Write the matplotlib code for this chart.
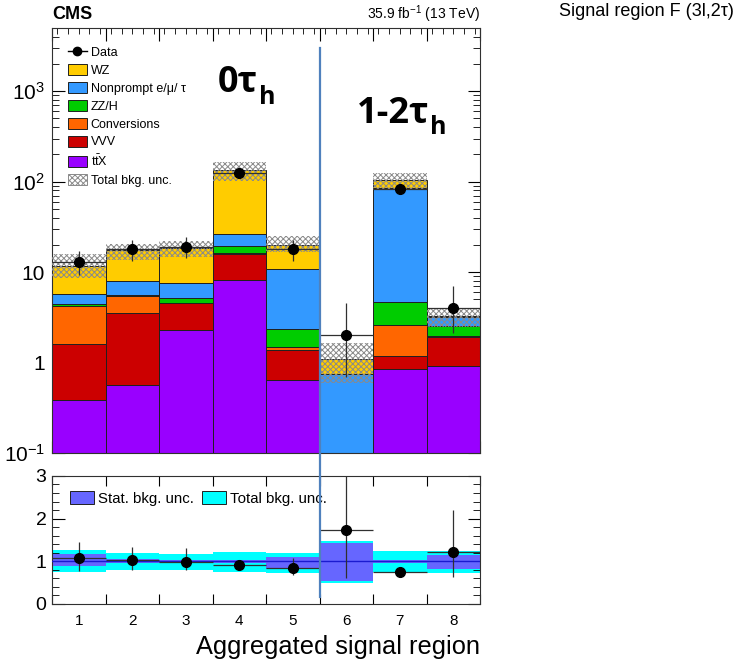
import numpy as np
import matplotlib
matplotlib.use("Agg")
from matplotlib import pyplot as plt
from matplotlib import ticker as pltticker
from matplotlib import transforms as mtrans
from matplotlib.patches import Patch
from matplotlib.lines import Line2D

plt.rcParams["font.family"] = ["Liberation Sans", "DejaVu Sans"]
plt.rcParams["mathtext.fontset"] = "custom"
plt.rcParams["mathtext.rm"] = "Liberation Sans"
plt.rcParams["mathtext.it"] = "Liberation Sans:italic"
plt.rcParams["mathtext.bf"] = "Liberation Sans:bold"
plt.rcParams["hatch.linewidth"] = 0.7

# aggregated signal regions
bins = [1, 2, 3, 4, 5, 6, 7, 8]
binLabels = ["1", "2", "3", "4", "5", "6", "7", "8"]

# background yields per process (stacked bottom -> top)
ttX = [0.38, 0.57, 2.27, 8.2, 0.64, 0.0, 0.84, 0.91]
vvv = [1.24, 2.99, 2.27, 7.7, 0.75, 0.0, 0.33, 1.0]
conversions = [2.58, 1.86, 0.06, 0.2, 0.10, 0.0, 1.41, 0.05]
zzh = [0.27, 0.18, 0.6, 3.2, 0.84, 0.0, 2.07, 0.6]
nonprompt = [1.23, 2.34, 2.3, 7.1, 8.4, 0.74, 80.4, 0.6]
wz = [6.1, 9.8, 10.9, 108.0, 9.4, 0.36, 19.0, 0.08]

# total background uncertainty band (upper panel)
uncHigh = [16.0, 20.5, 22.0, 166.0, 25.0, 1.64, 125.0, 3.9]
uncLow = [8.6, 13.6, 14.6, 102.0, 16.5, 0.59, 80.0, 2.5]

# observed data
data = [13, 18, 19, 126, 18, 2, 82, 4]
dataHigh = [17.3, 22.7, 24.2, 137.0, 22.7, 4.5, 91.0, 7.1]
dataLow = [9.4, 13.4, 14.4, 115.0, 13.4, 0.7, 73.0, 2.1]

# ratio panel
ratio = [1.07, 1.02, 0.99, 0.91, 0.84, 1.73, 0.76, 1.22]
ratioHigh = [1.46, 1.34, 1.30, 0.95, 1.08, 3.5, 0.80, 2.2]
ratioLow = [0.78, 0.79, 0.79, 0.87, 0.69, 0.61, 0.72, 0.64]
totalUncHigh = [1.26, 1.19, 1.17, 1.22, 1.20, 1.48, 1.24, 1.24]
totalUncLow = [0.74, 0.79, 0.79, 0.74, 0.72, 0.50, 0.74, 0.72]
statUncHigh = [1.18, 1.05, 1.04, 1.03, 1.10, 1.44, 1.03, 1.15]
statUncLow = [0.90, 0.95, 0.96, 0.97, 0.83, 0.55, 0.97, 0.82]

processes = [
    ("ttX", ttX, "#9900FF", r"t$\bar{\mathrm{t}}$X"),
    ("VVV", vvv, "#CC0000", "VVV"),
    ("Conversions", conversions, "#FF6600", "Conversions"),
    ("ZZ/H", zzh, "#00CC00", "ZZ/H"),
    ("Nonprompt", nonprompt, "#3399FF", "Nonprompt e/\u03bc/ \u03c4"),
    ("WZ", wz, "#FFCC00", "WZ"),
]

x = np.array(bins, dtype=float)
edges = np.arange(0.5, len(bins) + 1.0, 1.0)

fig = plt.figure(figsize=(7.41, 6.64), dpi=100)
ax = fig.add_axes([0.0702, 0.3178, 0.5776, 0.6400])
axr = fig.add_axes([0.0702, 0.0904, 0.5776, 0.1928])

# stacked backgrounds
bottom = np.full(len(bins), 1e-3)
for name, vals, color, lab in processes:
    vals = np.array(vals)
    ax.bar(x, vals, width=1.0, bottom=bottom, color=color,
           edgecolor="#202020", linewidth=0.7, zorder=2)
    bottom = bottom + vals

# total background unc. band
hi = np.array(uncHigh)
lo = np.array(uncLow)
ax.bar(x, hi - lo, width=1.0, bottom=lo, facecolor="none", edgecolor="#8a8a8a",
       hatch="xxxxxx", linewidth=0, zorder=3)

# data
d = np.array(data, dtype=float)
ax.errorbar(x, d, yerr=[d - np.array(dataLow), np.array(dataHigh) - d], xerr=0.5,
            fmt="o", color="black", ecolor="#303030", elinewidth=0.9,
            markersize=7, capsize=0, zorder=5)

ax.set_yscale("log")
ax.set_xlim(0.5, 8.5)
ax.set_ylim(0.1, 5000)
ax.set_yticks([0.1, 1, 10, 100, 1000])
ax.set_yticklabels([r"$10^{-1}$", "1", "10", r"$10^{2}$", r"$10^{3}$"])
ax.yaxis.set_minor_locator(pltticker.LogLocator(base=10, subs=np.arange(2, 10)))
ax.yaxis.set_minor_formatter(pltticker.NullFormatter())
ax.set_xticks(edges)
ax.set_xticklabels([])
ax.xaxis.set_minor_locator(pltticker.MultipleLocator(0.2))
ax.tick_params(axis="both", which="both", direction="in", top=True, right=True)
ax.tick_params(axis="y", which="major", length=9, labelsize=15, pad=5)
ax.tick_params(axis="y", which="minor", length=5)
ax.tick_params(axis="x", which="major", length=9)
ax.tick_params(axis="x", which="minor", length=4)

handles = [Line2D([], [], color="black", marker="o", markersize=6, lw=1)]
labels = ["Data"]
for name, vals, color, lab in reversed(processes):
    handles.append(Patch(facecolor=color, edgecolor="#202020", linewidth=0.7))
    labels.append(lab)
handles.append(Patch(facecolor="white", edgecolor="#8a8a8a", hatch="xxxxxx", linewidth=0.7))
labels.append("Total bkg. unc.")
ax.legend(handles, labels, loc="upper left", bbox_to_anchor=(0.02, 0.975),
          frameon=False, fontsize=9, labelspacing=0.4, handlelength=1.5,
          handleheight=1.0, handletextpad=0.3, borderaxespad=0.2)

# ratio panel
axr.bar(x, np.array(totalUncHigh) - np.array(totalUncLow), width=1.0,
        bottom=totalUncLow, color="#00FFFF", linewidth=0, zorder=1)
axr.bar(x, np.array(statUncHigh) - np.array(statUncLow), width=1.0,
        bottom=statUncLow, color="#6666FF", linewidth=0, zorder=2)
axr.axhline(1.0, color="#1a1aD0", lw=1.0, zorder=3)
r = np.array(ratio)
axr.errorbar(x, r, yerr=[r - np.array(ratioLow), np.array(ratioHigh) - r], xerr=0.5,
             fmt="o", color="black", ecolor="#303030", elinewidth=0.9,
             markersize=7, capsize=0, zorder=5)
axr.set_xlim(0.5, 8.5)
axr.set_ylim(0, 3)
axr.set_yticks([0, 1, 2, 3])
axr.yaxis.set_minor_locator(pltticker.MultipleLocator(0.2))
axr.set_xticks(edges)
axr.set_xticklabels([])
axr.set_xticks(x, binLabels, minor=True)
axr.tick_params(axis="both", which="both", direction="in", top=True, right=True)
axr.tick_params(axis="y", which="major", length=9, labelsize=14, pad=4)
axr.tick_params(axis="y", which="minor", length=5)
axr.tick_params(axis="x", which="major", length=7)
axr.tick_params(axis="x", which="minor", length=0, labelsize=11, pad=7)
axr.set_xlabel("Aggregated signal region", fontsize=18.3, loc="right", labelpad=5)
axr.legend([Patch(facecolor="#6666FF", edgecolor="#202020", linewidth=0.7),
            Patch(facecolor="#00FFFF", edgecolor="#202020", linewidth=0.7)],
           ["Stat. bkg. unc.", "Total bkg. unc."], ncol=2, loc="upper left",
           bbox_to_anchor=(0.01, 0.99), frameon=False, fontsize=10.8,
           handlelength=1.6, handleheight=1.0, handletextpad=0.3, columnspacing=0.5)

for a in (ax, axr):
    for s in a.spines.values():
        s.set_linewidth(0.8)
        s.set_color("#303030")

# header texts
fig.text(0.0702, 0.9785, "CMS", fontsize=13, fontweight="bold", ha="left", va="center")
fig.text(0.6478, 0.9785, r"35.9 fb$^{-1}$ (13 TeV)", fontsize=10, ha="right", va="center")
fig.text(0.991, 0.9825, "Signal region F (3l,2\u03c4)", fontsize=13, ha="right", va="center")

# category annotations, subscript h placed right after the tau
renderer = fig.canvas.get_renderer()
annFont = ["Open Sans", "DejaVu Sans"]
for label, x0, base, subBase in [("0\u03c4", 218, 92, 104), ("1-2\u03c4", 357, 123, 134)]:
    t = fig.text(x0 / 741, 1 - base / 664, label, fontsize=26, fontweight="bold",
                 family=annFont, ha="left", va="baseline")
    bb = t.get_window_extent(renderer)
    fig.text(bb.x1 / 741 + 0.001, 1 - subBase / 664, "h", fontsize=18, fontweight="bold",
             family=annFont, ha="left", va="baseline")

# separator line across both panels
trans = mtrans.blended_transform_factory(ax.transData, fig.transFigure)
fig.add_artist(Line2D([5.5, 5.5], [1 - 48 / 664, 1 - 597 / 664], transform=trans,
                      color="#4F81BD", lw=1.6, zorder=10))

fig.savefig("out.png", dpi=100)
plt.close()
